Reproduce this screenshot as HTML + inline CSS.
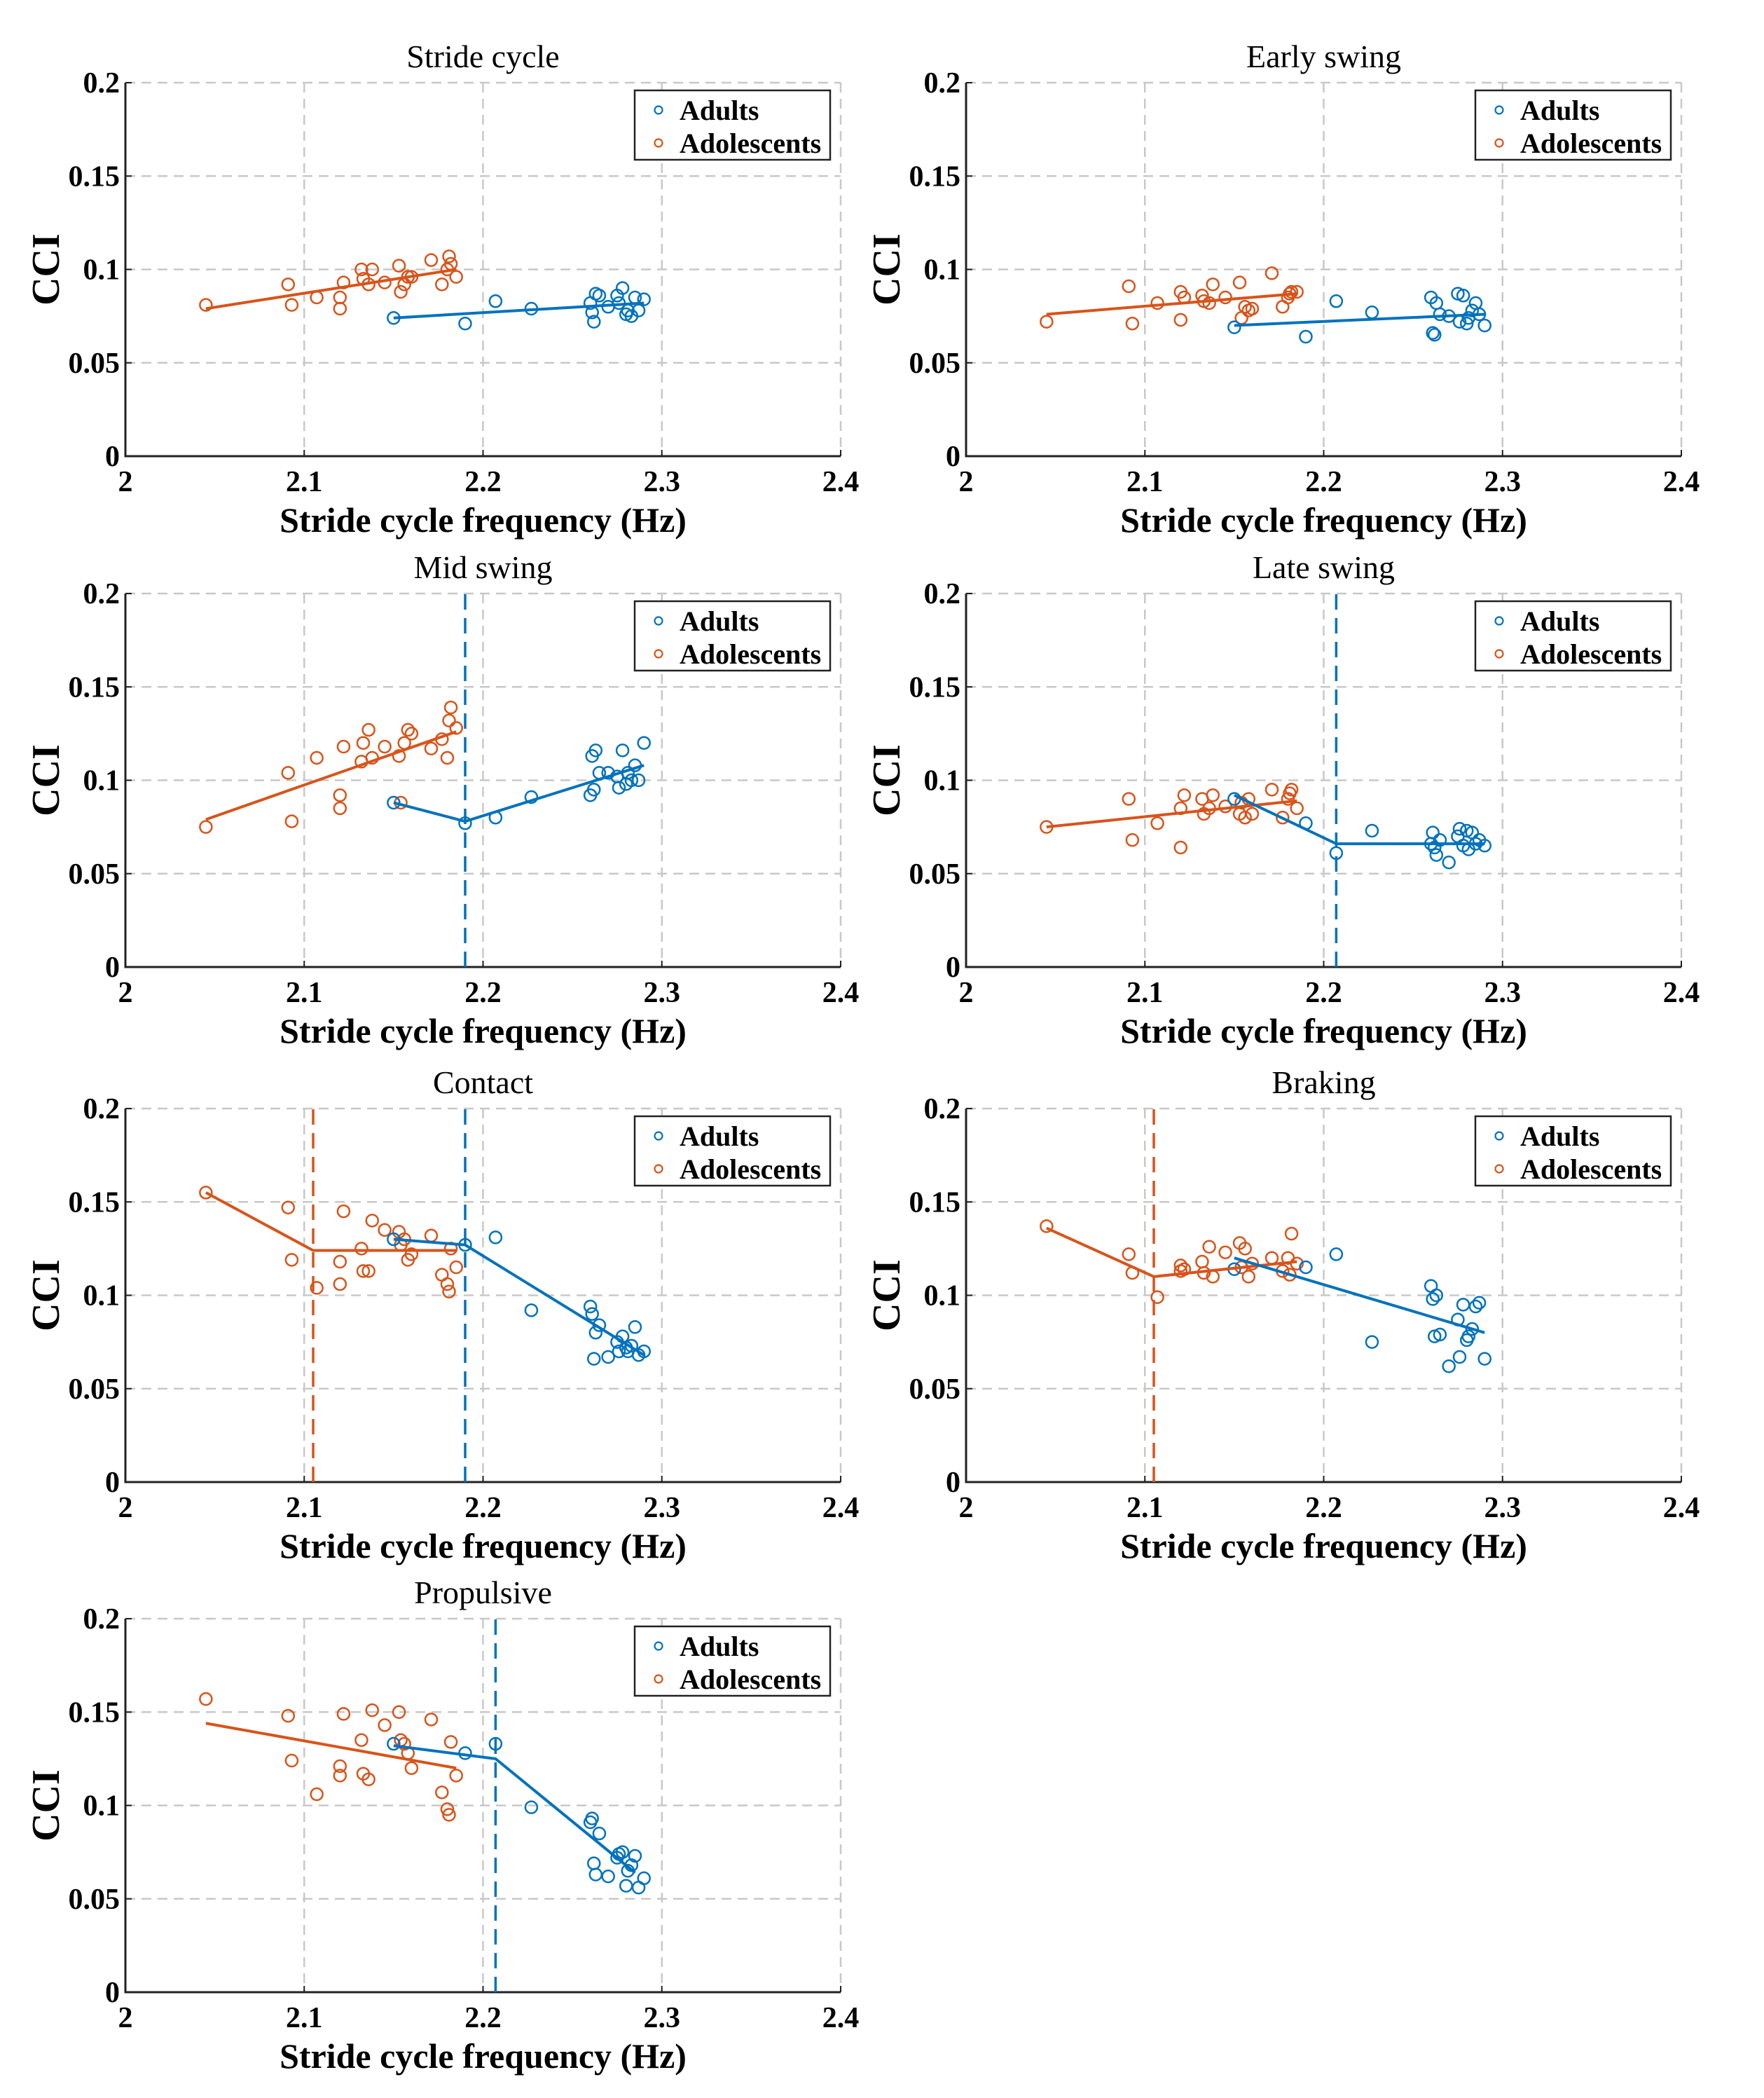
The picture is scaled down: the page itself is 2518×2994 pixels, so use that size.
<!DOCTYPE html>
<html><head><meta charset="utf-8"><style>
html,body{margin:0;padding:0;background:#fff;}
svg{display:block;}
text{font-family:"Liberation Serif",serif;}
</style></head><body>
<svg id="fig" width="2518" height="2994" viewBox="0 0 2518 2994" xmlns="http://www.w3.org/2000/svg"></svg>
<script>
const titles = ["Stride cycle","Early swing","Mid swing","Late swing","Contact","Braking","Propulsive"];
const xTicks = [2,2.1,2.2,2.3,2.4];
const yTicks = [0,0.05,0.1,0.15,0.2];
const yTickLabels = ["0","0.05","0.1","0.15","0.2"];
const adultX = [2.15,2.19,2.207,2.227,2.26,2.261,2.262,2.263,2.265,2.27,2.275,2.276,2.278,2.28,2.281,2.283,2.285,2.287,2.29];
const adolX = [2.045,2.091,2.093,2.107,2.12,2.12,2.122,2.132,2.133,2.136,2.138,2.145,2.153,2.154,2.156,2.158,2.16,2.171,2.177,2.18,2.181,2.182,2.185];
const adultY = [
 [0.074,0.071,0.083,0.079,0.082,0.077,0.072,0.087,0.086,0.08,0.086,0.082,0.09,0.076,0.078,0.075,0.085,0.078,0.084],
 [0.069,0.064,0.083,0.077,0.085,0.066,0.065,0.082,0.076,0.075,0.087,0.072,0.086,0.071,0.074,0.078,0.082,0.076,0.07],
 [0.088,0.077,0.08,0.091,0.092,0.113,0.095,0.116,0.104,0.104,0.102,0.096,0.116,0.098,0.104,0.1,0.108,0.1,0.12],
 [0.09,0.077,0.061,0.073,0.066,0.072,0.064,0.06,0.068,0.056,0.07,0.074,0.065,0.073,0.063,0.072,0.066,0.068,0.065],
 [0.13,0.127,0.131,0.092,0.094,0.09,0.066,0.08,0.084,0.067,0.075,0.07,0.078,0.072,0.07,0.073,0.083,0.068,0.07],
 [0.114,0.115,0.122,0.075,0.105,0.098,0.078,0.1,0.079,0.062,0.087,0.067,0.095,0.076,0.078,0.082,0.094,0.096,0.066],
 [0.133,0.128,0.133,0.099,0.091,0.093,0.069,0.063,0.085,0.062,0.072,0.074,0.075,0.057,0.065,0.068,0.073,0.056,0.061]
];
const adolY = [
 [0.081,0.092,0.081,0.085,0.079,0.085,0.093,0.1,0.095,0.092,0.1,0.093,0.102,0.088,0.092,0.096,0.096,0.105,0.092,0.1,0.107,0.103,0.096],
 [0.072,0.091,0.071,0.082,0.073,0.088,0.085,0.086,0.083,0.082,0.092,0.085,0.093,0.074,0.08,0.078,0.079,0.098,0.08,0.085,0.087,0.088,0.088],
 [0.075,0.104,0.078,0.112,0.085,0.092,0.118,0.11,0.12,0.127,0.112,0.118,0.113,0.088,0.12,0.127,0.125,0.117,0.122,0.112,0.132,0.139,0.128],
 [0.075,0.09,0.068,0.077,0.064,0.085,0.092,0.09,0.082,0.085,0.092,0.086,0.082,0.088,0.08,0.09,0.082,0.095,0.08,0.09,0.093,0.095,0.085],
 [0.155,0.147,0.119,0.104,0.118,0.106,0.145,0.125,0.113,0.113,0.14,0.135,0.134,0.127,0.13,0.119,0.122,0.132,0.111,0.106,0.102,0.125,0.115],
 [0.137,0.122,0.112,0.099,0.116,0.113,0.114,0.118,0.112,0.126,0.11,0.123,0.128,0.115,0.125,0.11,0.117,0.12,0.113,0.12,0.111,0.133,0.117],
 [0.157,0.148,0.124,0.106,0.121,0.116,0.149,0.135,0.117,0.114,0.151,0.143,0.15,0.135,0.133,0.128,0.12,0.146,0.107,0.098,0.095,0.134,0.116]
];
const adultFitX = [[2.15,2.29],[2.15,2.29],[2.15,2.19,2.29],[2.15,2.207,2.29],[2.15,2.19,2.29],[2.15,2.29],[2.15,2.207,2.285]];
const adultFitY = [[0.074,0.082],[0.07,0.076],[0.088,0.078,0.108],[0.092,0.066,0.066],[0.13,0.127,0.068],[0.12,0.08],[0.132,0.125,0.064]];
const adolFitX = [[2.045,2.185],[2.045,2.185],[2.045,2.185],[2.045,2.185],[2.045,2.105,2.185],[2.045,2.105,2.185],[2.045,2.185]];
const adolFitY = [[0.079,0.1],[0.076,0.087],[0.079,0.126],[0.075,0.089],[0.155,0.124,0.124],[0.136,0.11,0.118],[0.144,0.12]];
const adultBreak = [null,null,2.19,2.207,2.19,null,2.207];
const adolBreak = [null,null,null,null,2.105,2.105,null];

const BLUE="#0072BD", ORANGE="#D95319";
const svg=document.getElementById('fig');
const NS="http://www.w3.org/2000/svg";
function mk(tag,attrs,parent){const e=document.createElementNS(NS,tag);for(const k in attrs)e.setAttribute(k,attrs[k]);parent.appendChild(e);return e;}
const colL=[179,1379], rowT=[118,847,1582,2310], PW=1021, PH=533;

titles.forEach((t,i)=>{
  const L=colL[i%2], T=rowT[Math.floor(i/2)];
  const xs=v=>L+(v-2)/0.4*PW, ys=v=>T+PH-(v/0.2)*PH;
  const g=mk('g',{},svg);
  
  
  xTicks.forEach(v=>{const l=mk('line',{x1:xs(v),x2:xs(v),y1:T,y2:T+PH,stroke:'#c8c8c8','stroke-width':2.5,'stroke-dasharray':'14,9'},g);
    
    const tx=mk('text',{x:xs(v),y:T+PH+50,'text-anchor':'middle','font-size':42,'font-weight':'bold'},g);tx.textContent=String(v);
    
    mk('line',{x1:xs(v),x2:xs(v),y1:T+PH,y2:T+PH-9,stroke:'#222','stroke-width':2},g);});
  yTicks.forEach((v,k)=>{const l=mk('line',{x1:L,x2:L+PW,y1:ys(v),y2:ys(v),stroke:'#c8c8c8','stroke-width':2.5,'stroke-dasharray':'14,9'},g);
    
    const tx=mk('text',{x:L-8,y:ys(v)+14,'text-anchor':'end','font-size':42,'font-weight':'bold'},g);tx.textContent=yTickLabels[k];
    
    mk('line',{x1:L,x2:L+9,y1:ys(v),y2:ys(v),stroke:'#222','stroke-width':2},g);});
  const ax=mk('path',{d:`M${L},${T} L${L},${T+PH} L${L+PW},${T+PH}`,fill:'none',stroke:'#222','stroke-width':3},g);
  
  if(adolBreak[i]!==null){const l=mk('line',{x1:xs(adolBreak[i]),x2:xs(adolBreak[i]),y1:T+PH,y2:T,stroke:ORANGE,'stroke-width':3.5,'stroke-dasharray':'22,12'},g);
    }
  if(adultBreak[i]!==null){const l=mk('line',{x1:xs(adultBreak[i]),x2:xs(adultBreak[i]),y1:T+PH,y2:T,stroke:BLUE,'stroke-width':3.5,'stroke-dasharray':'22,12'},g);
    }
  adolX.forEach((x,k)=>{const c=mk('circle',{cx:xs(x),cy:ys(adolY[i][k]),r:8.5,fill:'none',stroke:ORANGE,'stroke-width':2.5},g);
    });
  adultX.forEach((x,k)=>{const c=mk('circle',{cx:xs(x),cy:ys(adultY[i][k]),r:8.5,fill:'none',stroke:BLUE,'stroke-width':2.5},g);
    });
  const pa=mk('polyline',{points:adolFitX[i].map((x,k)=>xs(x)+','+ys(adolFitY[i][k])).join(' '),fill:'none',stroke:ORANGE,'stroke-width':4},g);
  
  const pb=mk('polyline',{points:adultFitX[i].map((x,k)=>xs(x)+','+ys(adultFitY[i][k])).join(' '),fill:'none',stroke:BLUE,'stroke-width':4},g);
  
  const tt=mk('text',{x:L+PW/2,y:T-22,'text-anchor':'middle','font-size':46},g);tt.textContent=t;
  
  const xl=mk('text',{x:L+PW/2,y:T+PH+108,'text-anchor':'middle','font-size':50,'font-weight':'bold'},g);xl.textContent='Stride cycle frequency (Hz)';
  
  const yl=mk('text',{x:0,y:0,'text-anchor':'middle','font-size':56,'font-weight':'bold',transform:`translate(${L-95},${T+PH/2}) rotate(-90)`},g);yl.textContent='CCI';
  
  const lg=mk('g',{},g);
  
  const lx=L+727, ly=T+11;
  mk('rect',{x:lx,y:ly,width:279,height:99,fill:'#fff',stroke:'#222','stroke-width':2.5},lg);
  mk('circle',{cx:lx+34,cy:ly+28,r:5.5,fill:'none',stroke:BLUE,'stroke-width':2.2},lg);
  mk('circle',{cx:lx+34,cy:ly+75,r:5.5,fill:'none',stroke:ORANGE,'stroke-width':2.2},lg);
  const e1=mk('text',{x:lx+64,y:ly+42,'font-size':40,'font-weight':'bold'},lg);e1.textContent='Adults';
  
  const e2=mk('text',{x:lx+64,y:ly+89,'font-size':40,'font-weight':'bold'},lg);e2.textContent='Adolescents';
  
});
</script>
</body></html>
